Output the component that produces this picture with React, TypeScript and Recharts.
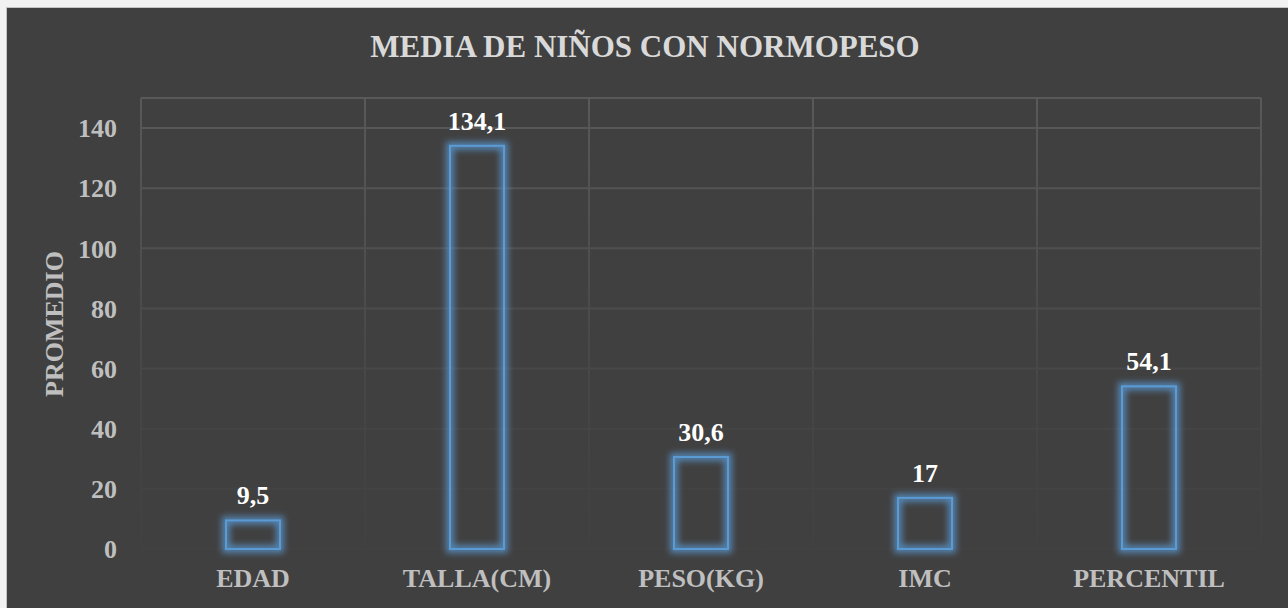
import React from 'react';
import { BarChart, Bar, XAxis, YAxis, CartesianGrid, LabelList } from 'recharts';

const categories = ['EDAD', 'TALLA(CM)', 'PESO(KG)', 'IMC', 'PERCENTIL'];
const promedios = [9.5, 134.1, 30.6, 17, 54.1];
const yTicks = [0, 20, 40, 60, 80, 100, 120, 140];

const FONT = 'Liberation Serif, DejaVu Serif, serif';

const chartData = categories.map((name, i) => ({ name, value: promedios[i] }));

// outline bar with a soft blue glow, like the Excel style
const GlowBar = (props: any) => {
  const { x, y, width, height } = props;
  if (height == null || width == null) return null;
  return (
    <g>
      <rect
        x={x}
        y={y}
        width={width}
        height={height}
        fill="none"
        stroke="#5b9bd5"
        strokeWidth={8}
        strokeOpacity={0.75}
        filter="url(#barGlow)"
      />
      <rect x={x} y={y} width={width} height={height} fill="none" stroke="#5b9bd5" strokeWidth={2} />
    </g>
  );
};

const App: React.FC = () => {
  return (
    <div
      style={{
        position: 'absolute',
        left: 0,
        top: 0,
        width: 1288,
        height: 608,
        background: '#f2f2f2',
        overflow: 'hidden',
        fontFamily: FONT,
      }}
    >
      <div
        style={{
          position: 'absolute',
          left: 6,
          top: 7,
          width: 1282,
          height: 601,
          background: '#404040',
          borderTop: '1px solid #c4c4c4',
          borderLeft: '1px solid #c4c4c4',
          boxSizing: 'border-box',
        }}
      />
      <div
        style={{
          position: 'absolute',
          left: 0,
          top: 31,
          width: 1290,
          textAlign: 'center',
          fontSize: 31,
          lineHeight: '31px',
          fontWeight: 'bold',
          color: '#d9d9d9',
        }}
      >
        MEDIA DE NIÑOS CON NORMOPESO
      </div>
      <div
        style={{
          position: 'absolute',
          left: 55,
          top: 324,
          transform: 'translate(-50%, -50%) rotate(-90deg)',
          whiteSpace: 'nowrap',
          fontSize: 26,
          lineHeight: '26px',
          fontWeight: 'bold',
          color: '#bfbfbf',
        }}
      >
        PROMEDIO
      </div>
      <div style={{ position: 'absolute', left: 0, top: 0 }}>
        <BarChart
          width={1288}
          height={608}
          data={chartData}
          margin={{ top: 98, right: 27, left: 61, bottom: 19 }}
          style={{ fontFamily: FONT }}
        >
          <defs>
            <linearGradient id="gridFade" gradientUnits="userSpaceOnUse" x1="0" y1="98" x2="0" y2="549">
              <stop offset="0%" stopColor="#595959" />
              <stop offset="65%" stopColor="#464646" />
              <stop offset="100%" stopColor="#414141" />
            </linearGradient>
            <filter id="barGlow" x="-50%" y="-50%" width="200%" height="200%">
              <feGaussianBlur stdDeviation="3" />
            </filter>
          </defs>
          <CartesianGrid
            stroke="url(#gridFade)"
            strokeWidth={2}
            verticalCoordinatesGenerator={({ offset }: any) =>
              [0, 1, 2, 3, 4, 5].map((i) => offset.left + (i * offset.width) / categories.length)
            }
          />
          <XAxis
            dataKey="name"
            interval={0}
            axisLine={false}
            tickLine={false}
            tickSize={0}
            tickMargin={20}
            height={40}
            tick={{ fill: '#bfbfbf', fontSize: 26, fontWeight: 'bold', fontFamily: FONT }}
          />
          <YAxis
            domain={[0, 150]}
            ticks={yTicks}
            interval={0}
            axisLine={false}
            tickLine={false}
            tickSize={0}
            tickMargin={24}
            width={80}
            tick={{ fill: '#bfbfbf', fontSize: 26, fontWeight: 'bold', fontFamily: FONT }}
          />
          <Bar dataKey="value" barSize={54} shape={GlowBar} isAnimationActive={false}>
            <LabelList
              dataKey="value"
              position="top"
              offset={16}
              fill="#ffffff"
              fontSize={26}
              fontWeight="bold"
              fontFamily={FONT}
              formatter={(v: any) => String(v).replace('.', ',')}
            />
          </Bar>
        </BarChart>
      </div>
    </div>
  );
};

export default App;
